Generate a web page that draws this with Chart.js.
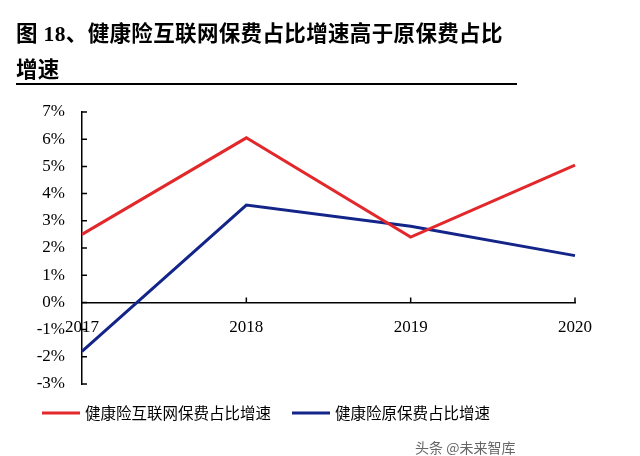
<!DOCTYPE html>
<html>
<head>
<meta charset="utf-8">
<script src="https://cdn.jsdelivr.net/npm/chart.js@4.4.0/dist/chart.umd.min.js"></script>
<style>
  html, body { margin: 0; padding: 0; background: #fff; }
  #wrap { position: relative; width: 640px; height: 456px; overflow: hidden; }
  #title {
    position: absolute; left: 16px; top: 15px; width: 540px;
    font-family: "Noto Sans CJK SC", serif; font-weight: bold; font-size: 21.5px;
    line-height: 34px; color: #000; white-space: nowrap; letter-spacing: 0.35px;
  }
  #title .num { font-family: "Liberation Serif", serif; }
  #rule { position: absolute; left: 16px; top: 83px; width: 501px; height: 2px; background: #000; }
  #mark {
    position: absolute; left: 415px; top: 437px;
    font-family: "Noto Sans CJK SC", sans-serif; font-size: 14px; color: #666;
  }
  #chart { position: absolute; left: 0; top: 0; }
</style>
</head>
<body>
<div id="wrap">
  <canvas id="chart" width="640" height="456"></canvas>
  <div id="title">图<span class="num"> 18</span>、健康险互联网保费占比增速高于原保费占比<br>增速</div>
  <div id="rule"></div>
  <div id="mark">头条 @未来智库</div>
</div>
<script>
// 数据
const years = ['2017', '2018', '2019', '2020'];
const internetGrowth = [2.5, 6.05, 2.4, 5.05];
const originalGrowth = [-1.8, 3.58, 2.8, 1.72];
const seriesNames = ['健康险互联网保费占比增速', '健康险原保费占比增速'];
const yTicks = [-3, -2, -1, 0, 1, 2, 3, 4, 5, 6, 7];

// 坐标轴内侧刻度线 + 图例
const innerTicks = {
    id: 'innerTicks',
    afterDraw(chart) {
        const ctx = chart.ctx;
        const x = chart.scales.x;
        const y = chart.scales.y;
        const x0 = y.right;
        const y0 = y.getPixelForValue(0);
        ctx.save();
        ctx.strokeStyle = '#000';
        ctx.lineWidth = 1.5;
        ctx.beginPath();
        yTicks.forEach(v => {
            const py = y.getPixelForValue(v);
            ctx.moveTo(x0, py);
            ctx.lineTo(x0 + 5, py);
        });
        years.forEach((lab, i) => {
            if (i === 0) return;
            const px = x.getPixelForValue(i);
            ctx.moveTo(px, y0);
            ctx.lineTo(px, y0 - 5);
        });
        ctx.stroke();

        // 图例
        const pos = [42, 292];
        ctx.font = '15.5px "Noto Sans CJK SC", sans-serif';
        ctx.textBaseline = 'middle';
        ctx.fillStyle = '#000';
        chart.data.datasets.forEach((ds, i) => {
            ctx.strokeStyle = ds.borderColor;
            ctx.lineWidth = 3;
            ctx.beginPath();
            ctx.moveTo(pos[i], 413);
            ctx.lineTo(pos[i] + 38, 413);
            ctx.stroke();
            ctx.fillText(ds.label, pos[i] + 43, 413);
        });
        ctx.restore();
    }
};

const ctx = document.getElementById('chart').getContext('2d');
new Chart(ctx, {
    type: 'line',
    data: {
        labels: years,
        datasets: [{
            label: seriesNames[0],
            data: internetGrowth,
            borderColor: '#E3282C',
            backgroundColor: '#E3282C',
            borderWidth: 3,
            pointRadius: 0,
            tension: 0
        }, {
            label: seriesNames[1],
            data: originalGrowth,
            borderColor: '#14258A',
            backgroundColor: '#14258A',
            borderWidth: 3,
            pointRadius: 0,
            tension: 0
        }]
    },
    options: {
        responsive: false,
        animation: false,
        layout: {
            padding: { left: 0, right: 65, top: 112, bottom: 72 }
        },
        plugins: {
            legend: { display: false },
            tooltip: { enabled: false }
        },
        scales: {
            x: {
                type: 'category',
                offset: false,
                position: { y: 0 },
                grid: { display: false, drawTicks: false },
                border: { display: true, color: '#000', width: 1.5 },
                ticks: {
                    color: '#000',
                    padding: 15,
                    maxRotation: 0,
                    font: { family: '"Liberation Serif", serif', size: 17 }
                }
            },
            y: {
                min: -3,
                max: 7,
                afterFit(scale) { scale.width = 82; },
                afterBuildTicks(scale) { scale.ticks = yTicks.map(v => ({ value: v })); },
                grid: { display: false, drawTicks: false },
                border: { display: true, color: '#000', width: 1.5 },
                ticks: {
                    color: '#000',
                    padding: 17,
                    font: { family: '"Liberation Serif", serif', size: 17 },
                    callback: v => v + '%'
                }
            }
        }
    },
    plugins: [innerTicks]
});
</script>
</body>
</html>
